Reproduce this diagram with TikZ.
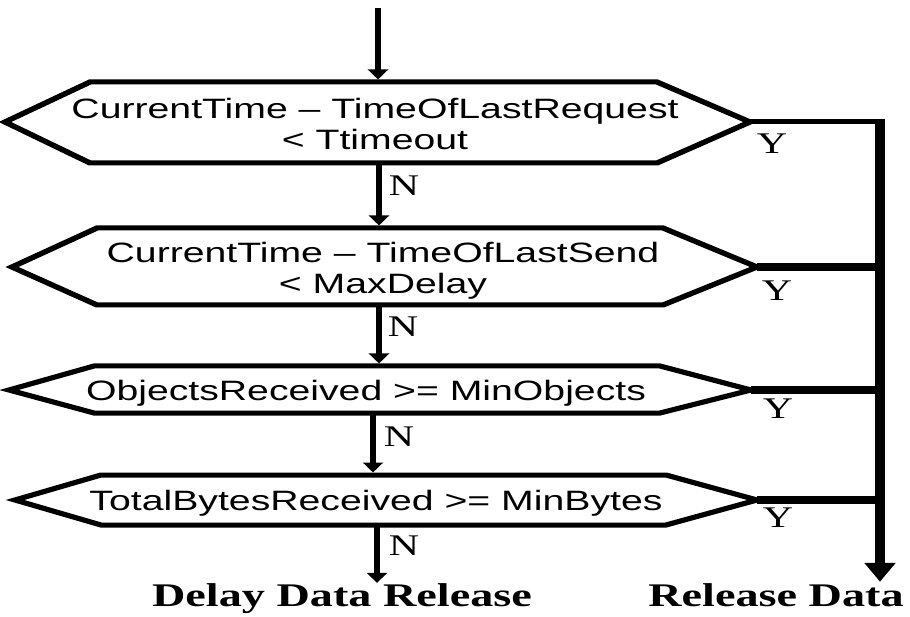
\documentclass[tikz,border=0pt]{standalone}
\usepackage{fontspec}
\setmainfont{Liberation Serif}
\setsansfont{Liberation Sans}
\usetikzlibrary{arrows.meta}
\begin{document}
\begin{tikzpicture}
\useasboundingbox (0,0) rectangle (910pt,-617pt);
\begin{scope}[transform canvas={xscale=1.4}, x=0.7142857pt, y=-1pt,
  hex/.style={line width=5pt, line join=miter},
  flow/.style={line width=4.5pt, -{Triangle[length=10pt, width=14pt]}, shorten >=2.5pt},
  rflow/.style={line width=7pt, -{Triangle[length=19pt, width=21pt]}},
  thinbranch/.style={line width=5pt},
  branch/.style={line width=8pt},
  cond/.style={font=\sffamily\fontsize{28}{31}\selectfont, align=center, inner sep=0pt},
  yn/.style={font=\fontsize{30}{30}\selectfont, inner sep=0pt},
  endlab/.style={font=\bfseries\fontsize{33}{33}\selectfont, inner sep=0pt, anchor=base}]

% hexagon 1
\coordinate (h1l) at (5,122);   \coordinate (h1r) at (750,122);
\coordinate (h1t) at (378,82);  \coordinate (h1b) at (379,163);
\draw[hex] (h1l) -- (90,82) -- (657,82) -- (h1r) -- (657,163) -- (90,163) -- cycle;
\node[cond] (q1) at (375,123.5) {CurrentTime – TimeOfLastRequest\\< Ttimeout};

% hexagon 2
\coordinate (h2l) at (12,267);  \coordinate (h2r) at (757,267);
\coordinate (h2t) at (379,228); \coordinate (h2b) at (379,305);
\draw[hex] (h2l) -- (97,228) -- (663,228) -- (h2r) -- (663,305) -- (97,305) -- cycle;
\node[cond] (q2) at (383,271) {CurrentTime – TimeOfLastSend\\< MaxDelay};

% hexagon 3
\coordinate (h3l) at (9,390);   \coordinate (h3r) at (751,390);
\coordinate (h3t) at (373,366); \coordinate (h3b) at (373,413);
\draw[hex] (h3l) -- (94,366) -- (660,366) -- (h3r) -- (660,413) -- (94,413) -- cycle;
\node[cond, anchor=base] (q3) at (366,400) {ObjectsReceived >= MinObjects};

% hexagon 4
\coordinate (h4l) at (15,500);  \coordinate (h4r) at (757,500);
\coordinate (h4t) at (373,475); \coordinate (h4b) at (377,525);
\draw[hex] (h4l) -- (101,475) -- (666,475) -- (h4r) -- (666,525) -- (101,525) -- cycle;
\node[cond, anchor=base] (q4) at (376,510) {TotalBytesReceived >= MinBytes};

% end labels
\node[endlab] (delay) at (342,606) {Delay Data Release};
\node[endlab] (release) at (776,606) {Release Data};

% vertical flow
\coordinate (start) at (378,8);
\draw[flow] (start) -- (h1t);
\draw[flow] (h1b) -- (h1b |- h2t);
\draw[flow] (h2b) -- (h2b |- h3t);
\draw[flow] (h3b) -- (h3b |- h4t);
\draw[flow, shorten >=0pt] (h4b) -- (h4b |- delay.north);

% right collector
\coordinate (rt) at (880,122);
\coordinate (rtop) at (880,119.5);
\draw[thinbranch] (h1r) -- (rt);
\draw[branch] (h2r) -- (h2r -| rt);
\draw[branch] (h3r) -- (h3r -| rt);
\draw[branch] (h4r) -- (h4r -| rt);
\draw[rflow, shorten >=1pt] (rtop) -- (rtop |- release.north);

% labels
\node[yn] (y1) at (772,144) {Y};
\node[yn] (y2) at (777,291) {Y};
\node[yn] (y3) at (778,409) {Y};
\node[yn] (y4) at (778,518) {Y};
\node[yn] (n1) at (404,186) {N};
\node[yn] (n2) at (403,327) {N};
\node[yn] (n3) at (399,437) {N};
\node[yn] (n4) at (404,546) {N};
\end{scope}
\end{tikzpicture}
\end{document}
